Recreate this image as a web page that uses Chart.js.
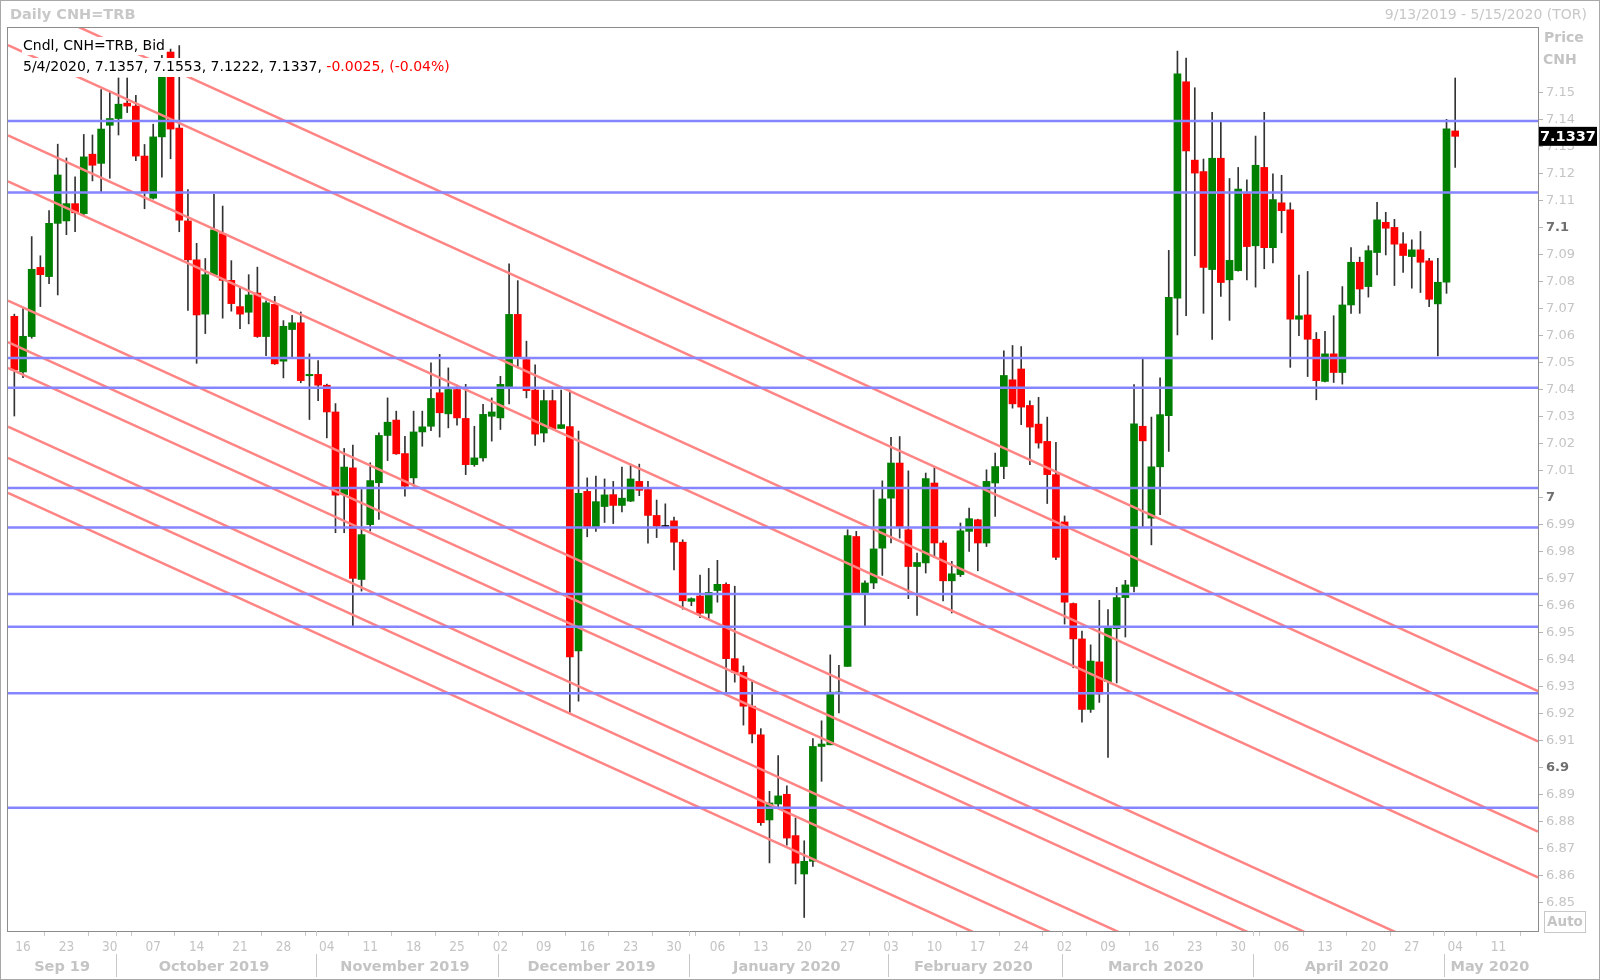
<!DOCTYPE html>
<html>
<head>
<meta charset="utf-8">
<title>Daily CNH=TRB</title>
<script src="https://cdn.jsdelivr.net/npm/chart.js@4.4.1/dist/chart.umd.min.js"></script>
<style>
  html, body { margin: 0; padding: 0; background: #fff; }
  #wrap { position: relative; width: 1600px; height: 980px; }
</style>
</head>
<body>
<div id="wrap"><canvas id="cnh" width="1600" height="980"></canvas></div>
<script>
// daily bars, one per weekday starting 9/13/2019
const opens = [
  7.0671, 7.0465, 7.0596, 7.0852, 7.0818, 7.1015, 7.1024, 7.1088, 7.1051, 7.1271,
  7.1237, 7.1378, 7.1403, 7.1460, 7.1449, 7.1264, 7.1108, 7.1335, 7.1649, 7.1368,
  7.1024, 7.0880, 7.0679, 7.0825, 7.0977, 7.0804, 7.0707, 7.0686, 7.0757, 7.0596,
  7.0715, 7.0505, 7.0622, 7.0647, 7.0451, 7.0456, 7.0416, 7.0317, 7.0011, 7.0110,
  6.9697, 6.9900, 7.0055, 7.0230, 7.0287, 7.0163, 7.0073, 7.0243, 7.0264, 7.0388,
  7.0310, 7.0400, 7.0293, 7.0122, 7.0147, 7.0301, 7.0295, 7.0410, 7.0678, 7.0511,
  7.0398, 7.0239, 7.0359, 7.0256, 7.0263, 6.9433, 7.0023, 6.9888, 6.9967, 7.0011,
  6.9971, 6.9987, 7.0060, 7.0030, 6.9934, 6.9893, 6.9914, 6.9835, 6.9616, 6.9636,
  6.9572, 6.9656, 6.9679, 6.9404, 6.9353, 6.9228, 6.9122, 6.8807, 6.8866, 6.8902,
  6.8749, 6.8607, 6.8654, 6.9079, 6.9085, 6.9277, 6.9375, 6.9856, 6.9647, 6.9684,
  6.9813, 6.9998, 7.0128, 6.9881, 6.9745, 6.9758, 7.0054, 6.9832, 6.9692, 6.9715,
  6.9875, 6.9918, 6.9832, 7.0054, 7.0115, 7.0436, 7.0476, 7.0341, 7.0272, 7.0208,
  7.0085, 6.9910, 6.9608, 6.9477, 6.9216, 6.9392, 6.9319, 6.9515, 6.9630, 6.9671,
  7.0264, 6.9924, 7.0114, 7.0303, 7.0738, 7.1539, 7.1249, 7.1207, 7.0844, 7.1256,
  7.0806, 7.0840, 7.1125, 7.0932, 7.1222, 7.0925, 7.1091, 7.1065, 7.0660, 7.0676,
  7.0586, 7.0430, 7.0532, 7.0463, 7.0713, 7.0871, 7.0781, 7.0907, 7.1019, 7.1000,
  7.0939, 7.0892, 7.0917, 7.0876, 7.0717, 7.0797, 7.1357
];
const highs = [
  7.0679, 7.0700, 7.0966, 7.0895, 7.1062, 7.1308, 7.1257, 7.1187, 7.1344, 7.1342,
  7.1510, 7.1503, 7.1553, 7.1553, 7.1489, 7.1307, 7.1382, 7.1640, 7.1660, 7.1673,
  7.1140, 7.0941, 7.0885, 7.1122, 7.1079, 7.0877, 7.0775, 7.0825, 7.0853, 7.0728,
  7.0745, 7.0655, 7.0675, 7.0687, 7.0532, 7.0507, 7.0420, 7.0348, 7.0182, 7.0194,
  7.0030, 7.0129, 7.0240, 7.0369, 7.0320, 7.0227, 7.0320, 7.0320, 7.0499, 7.0530,
  7.0480, 7.0416, 7.0419, 7.0264, 7.0345, 7.0369, 7.0449, 7.0865, 7.0803, 7.0579,
  7.0491, 7.0398, 7.0398, 7.0398, 7.0398, 7.0246, 7.0073, 7.0080, 7.0069, 7.0060,
  7.0113, 7.0124, 7.0124, 7.0060, 6.9991, 6.9977, 6.9928, 6.9844, 6.9629, 6.9713,
  6.9738, 6.9768, 6.9685, 6.9672, 6.9377, 6.9324, 6.9145, 6.8913, 6.9045, 6.8933,
  6.8814, 6.8730, 6.9108, 6.9174, 6.9418, 6.9379, 6.9881, 6.9875, 6.9692, 7.0029,
  7.0062, 7.0223, 7.0226, 7.0099, 6.9795, 7.0091, 7.0115, 6.9840, 6.9764, 6.9906,
  6.9961, 6.9920, 7.0103, 7.0165, 7.0543, 7.0563, 7.0559, 7.0358, 7.0371, 7.0298,
  7.0205, 6.9932, 6.9610, 6.9506, 6.9455, 6.9620, 6.9586, 6.9668, 6.9694, 7.0418,
  7.0517, 7.0298, 7.0443, 7.0915, 7.1653, 7.1627, 7.1517, 7.1253, 7.1426, 7.1389,
  7.1181, 7.1222, 7.1176, 7.1338, 7.1426, 7.1198, 7.1193, 7.1091, 7.0824, 7.0837,
  7.0611, 7.0615, 7.0673, 7.0781, 7.0925, 7.0890, 7.0932, 7.1093, 7.1056, 7.1030,
  7.0981, 7.0954, 7.0985, 7.0886, 7.0886, 7.1400, 7.1553
];
const lows = [
  7.0302, 7.0444, 7.0590, 7.0707, 7.0792, 7.0750, 7.0973, 7.0984, 7.1041, 7.1172,
  7.1130, 7.1182, 7.1342, 7.1425, 7.1247, 7.1069, 7.1105, 7.1186, 7.1254, 7.0984,
  7.0693, 7.0497, 7.0607, 7.0822, 7.0664, 7.0690, 7.0625, 7.0643, 7.0593, 7.0525,
  7.0493, 7.0443, 7.0517, 7.0425, 7.0289, 7.0359, 7.0221, 6.9870, 6.9870, 6.9524,
  6.9654, 6.9876, 6.9919, 7.0137, 7.0160, 7.0005, 7.0042, 7.0190, 7.0248, 7.0224,
  7.0258, 7.0268, 7.0085, 7.0116, 7.0135, 7.0209, 7.0252, 7.0347, 7.0480, 7.0369,
  7.0193, 7.0206, 7.0252, 7.0255, 6.9205, 6.9247, 6.9855, 6.9875, 6.9908, 6.9904,
  6.9947, 6.9985, 7.0007, 6.9831, 6.9852, 6.9888, 6.9732, 6.9587, 6.9600, 6.9556,
  6.9552, 6.9613, 6.9282, 6.9317, 6.9158, 6.9092, 6.8787, 6.8648, 6.8853, 6.8714,
  6.8570, 6.8446, 6.8635, 6.8950, 6.9085, 6.9203, 6.9375, 6.9647, 6.9523, 6.9663,
  6.9712, 6.9832, 6.9850, 6.9626, 6.9564, 6.9721, 6.9779, 6.9618, 6.9573, 6.9708,
  6.9801, 6.9729, 6.9819, 6.9930, 7.0070, 7.0331, 7.0270, 7.0122, 7.0183, 6.9978,
  6.9770, 6.9532, 6.9370, 6.9169, 6.9205, 6.9242, 6.9038, 6.9314, 6.9484, 6.9651,
  6.9893, 6.9825, 6.9937, 7.0171, 7.0602, 7.0673, 7.0895, 7.0682, 7.0585, 7.0745,
  7.0656, 7.0838, 7.0806, 7.0779, 7.0847, 7.0869, 7.0980, 7.0482, 7.0599, 7.0448,
  7.0362, 7.0428, 7.0426, 7.0420, 7.0682, 7.0682, 7.0742, 7.0824, 7.0898, 7.0785,
  7.0833, 7.0775, 7.0759, 7.0707, 7.0524, 7.0756, 7.1222
];
const closes = [
  7.0472, 7.0597, 7.0845, 7.0825, 7.1015, 7.1194, 7.1088, 7.1054, 7.1261, 7.1230,
  7.1364, 7.1403, 7.1456, 7.1449, 7.1264, 7.1133, 7.1335, 7.1600, 7.1364, 7.1027,
  7.0880, 7.0676, 7.0825, 7.0991, 7.0804, 7.0718, 7.0679, 7.0750, 7.0596, 7.0721,
  7.0495, 7.0634, 7.0647, 7.0433, 7.0456, 7.0416, 7.0317, 7.0009, 7.0113, 6.9701,
  6.9863, 7.0063, 7.0230, 7.0279, 7.0162, 7.0042, 7.0243, 7.0262, 7.0367, 7.0314,
  7.0400, 7.0295, 7.0122, 7.0147, 7.0308, 7.0317, 7.0419, 7.0678, 7.0517, 7.0396,
  7.0235, 7.0359, 7.0255, 7.0270, 6.9410, 7.0016, 6.9888, 6.9985, 7.0010, 6.9971,
  6.9998, 7.0069, 7.0027, 6.9934, 6.9894, 6.9893, 6.9835, 6.9618, 6.9626, 6.9572,
  6.9649, 6.9679, 6.9404, 6.9353, 6.9228, 6.9125, 6.8797, 6.8870, 6.8896, 6.8740,
  6.8647, 6.8654, 6.9079, 6.9088, 6.9280, 6.9280, 6.9859, 6.9647, 6.9684, 6.9810,
  6.9995, 7.0128, 6.9890, 6.9745, 6.9760, 7.0070, 6.9832, 6.9692, 6.9718, 6.9877,
  6.9922, 6.9832, 7.0060, 7.0115, 7.0452, 7.0347, 7.0335, 7.0261, 7.0202, 7.0085,
  6.9779, 6.9613, 6.9477, 6.9216, 6.9395, 6.9273, 6.9518, 6.9630, 6.9677, 7.0273,
  7.0210, 7.0114, 7.0307, 7.0741, 7.1568, 7.1283, 7.1201, 7.0852, 7.1256, 7.0796,
  7.0878, 7.1142, 7.0929, 7.1230, 7.0925, 7.1103, 7.1062, 7.0660, 7.0673, 7.0586,
  7.0433, 7.0532, 7.0463, 7.0713, 7.0871, 7.0772, 7.0914, 7.1028, 7.0997, 7.0938,
  7.0896, 7.0917, 7.0871, 7.0734, 7.0797, 7.1365, 7.1337
];

// horizontal support / resistance levels
const levels = [7.1394, 7.1129, 7.0517, 7.0407, 7.0036, 6.9889, 6.9643, 6.9522, 6.9276, 6.8852];

// parallel down-trend lines: value on 9/13/2019 and on 5/15/2020
const trendStart = [7.1850, 7.1664, 7.1330, 7.1160, 7.0718, 7.0565, 7.0469, 7.0252, 7.0136, 7.0007];
const trendEnd   = [6.9292, 6.9106, 6.8772, 6.8602, 6.8160, 6.8007, 6.7911, 6.7694, 6.7578, 6.7449];

const monthLabels = ["Sep 19", "October 2019", "November 2019", "December 2019", "January 2020",
  "February 2020", "March 2020", "April 2020", "May 2020"];

const yTickValues = [];
for (let k = 685; k <= 715; k++) yTickValues.push(k / 100);

const lastBar = 166;
const xMin = -0.73, xMax = 175.54;
const yMin = 6.8396, yMax = 7.1738;

// weekdays from the first bar to the end of the axis range
const days = [];
for (let t = Date.UTC(2019, 8, 13); days.length < 176; t += 86400000) {
  const d = new Date(t);
  if (d.getUTCDay() !== 0 && d.getUTCDay() !== 6) days.push(d);
}
const mondays = [];
days.forEach((d, i) => { if (d.getUTCDay() === 1) mondays.push(i); });

const FONT = "'DejaVu Sans', Verdana, sans-serif";
const NARROW = "'DejaVu Sans Condensed', 'Liberation Sans Narrow', 'DejaVu Sans', sans-serif";
const GREY = "#c4c4c4";

const candleColor = opens.map((o, i) => closes[i] > o ? "#008000" : closes[i] < o ? "#ff0000" : "#000000");
const bodies = opens.map((o, i) => ({ x: i, y: [o, closes[i]] }));
const wicks = highs.map((h, i) => ({ x: i, y: [lows[i], h] }));

const lineSets = [];
levels.forEach(v => {
  lineSets.push({
    type: "line", data: [{ x: xMin, y: v }, { x: xMax, y: v }],
    borderColor: "#8585ff", borderWidth: 2.5, pointRadius: 0, order: 0
  });
});
trendStart.forEach((a, k) => {
  const b = trendEnd[k];
  const at = x => a + (b - a) * x / 175;
  lineSets.push({
    type: "line", data: [{ x: xMin, y: at(xMin) }, { x: xMax, y: at(xMax) }],
    borderColor: "#ff8585", borderWidth: 2.5, pointRadius: 0, order: 0
  });
});

const decor = {
  id: "decor",
  afterDraw(chart) {
    const c = chart.ctx, a = chart.chartArea, xs = chart.scales.x, ys = chart.scales.y;
    c.save();

    // legend box, top left of the plot
    c.textBaseline = "middle";
    c.font = "14px " + FONT;
    const l1 = "Cndl, CNH=TRB, Bid";
    const l2a = "5/4/2020, 7.1357, 7.1553, 7.1222, 7.1337, ";
    const l2b = "-0.0025, (-0.04%)";
    c.fillStyle = "#fff";
    c.fillRect(22, 37, c.measureText(l1).width + 2, 18);
    c.fillRect(22, 58, c.measureText(l2a + l2b).width + 2, 19);
    c.fillStyle = "#000";
    c.fillText(l1, 23, 46);
    c.fillText(l2a, 23, 67.5);
    c.fillStyle = "#ff0000";
    c.fillText(l2b, 23 + c.measureText(l2a).width, 67.5);

    // frames
    c.strokeStyle = "#a8a8a8";
    c.lineWidth = 1;
    c.strokeRect(0.5, 0.5, 1599, 979);
    c.strokeStyle = "#8c8c8c";
    c.strokeRect(a.left - 0.5, a.top - 0.5, a.right - a.left + 1, a.bottom - a.top + 1);

    // header texts
    c.fillStyle = "#c8c8c8";
    c.font = "bold 14.5px " + FONT;
    c.textAlign = "left";
    c.fillText("Daily CNH=TRB", 10, 15.5);
    c.font = "14px " + FONT;
    c.textAlign = "right";
    c.fillText("9/13/2019 - 5/15/2020 (TOR)", 1587, 15.5);
    c.textAlign = "left";
    c.font = "bold 14px " + FONT;
    c.fillStyle = GREY;
    c.fillText("Price", 1544, 38);
    c.fillText("CNH", 1543, 60);

    // month band under the day ticks
    const spans = [];
    days.forEach((d, i) => {
      const key = d.getUTCFullYear() * 12 + d.getUTCMonth();
      const last = spans[spans.length - 1];
      if (!last || last.key !== key) spans.push({ key, first: i, last: i });
      else last.last = i;
    });
    c.font = "bold 14.5px " + FONT;
    c.textAlign = "center";
    c.strokeStyle = "#c8c8c8";
    spans.forEach((s, k) => {
      const lo = Math.max(s.first - 0.5, xMin), hi = Math.min(s.last + 0.5, xMax);
      c.fillStyle = GREY;
      c.fillText(monthLabels[k], xs.getPixelForValue((lo + hi) / 2), 967);
      if (k > 0) {
        const px = Math.round(xs.getPixelForValue(s.first - 0.3)) + 0.5;
        c.beginPath();
        c.moveTo(px, a.bottom);
        c.lineTo(px, a.bottom + 5);
        c.moveTo(px, 954);
        c.lineTo(px, 977);
        c.stroke();
      }
    });

    // last price tag
    const py = ys.getPixelForValue(closes[lastBar]);
    c.fillStyle = "#000";
    c.fillRect(a.right + 1, py - 9.5, 58, 19);
    c.fillStyle = "#fff";
    c.font = "bold 14.5px " + FONT;
    c.textAlign = "left";
    c.fillText(closes[lastBar].toFixed(4), a.right + 2, py + 0.5);

    // Auto button
    c.strokeStyle = "#c8c8c8";
    c.strokeRect(1544.5, 911.5, 41, 21);
    c.fillStyle = GREY;
    c.font = "bold 13.5px " + FONT;
    c.textAlign = "center";
    c.fillText("Auto", 1565, 922.5);
    c.restore();
  }
};

const isRound = ctx => ctx.tick && Math.round(ctx.tick.value * 100) % 10 === 0;

new Chart(document.getElementById("cnh"), {
  type: "bar",
  data: {
    datasets: [
      ...lineSets,
      {
        data: bodies,
        backgroundColor: candleColor,
        barThickness: 7,
        minBarLength: 1,
        grouped: false,
        order: 1
      },
      {
        data: wicks,
        backgroundColor: "#333333",
        barThickness: 1,
        grouped: false,
        order: 2
      }
    ]
  },
  plugins: [decor],
  options: {
    responsive: false,
    animation: false,
    events: [],
    layout: { padding: { left: 8, top: 28, right: 0, bottom: 0 } },
    plugins: {
      legend: { display: false },
      tooltip: { enabled: false }
    },
    scales: {
      x: {
        type: "linear",
        min: xMin,
        max: xMax,
        offset: false,
        border: { display: false },
        grid: { drawOnChartArea: false, drawTicks: true, tickLength: 5, color: "#c8c8c8" },
        afterBuildTicks: s => { s.ticks = mondays.map(v => ({ value: v })); },
        afterFit: s => { s.height = 49; },
        ticks: {
          autoSkip: false,
          maxRotation: 0,
          padding: 3,
          color: GREY,
          font: { family: NARROW, size: 13.5 },
          callback: v => String(days[v].getUTCDate()).padStart(2, "0")
        }
      },
      y: {
        position: "right",
        min: yMin,
        max: yMax,
        border: { display: false },
        grid: { drawOnChartArea: false, drawTicks: true, tickLength: 5, color: "#b4b4b4" },
        afterBuildTicks: s => { s.ticks = yTickValues.map(v => ({ value: v })); },
        afterFit: s => { s.width = 62; },
        ticks: {
          autoSkip: false,
          padding: 3,
          color: ctx => isRound(ctx) ? "#6e6e6e" : GREY,
          font: ctx => ({ family: FONT, size: 13, weight: isRound(ctx) ? "bold" : "normal" }),
          callback: v => String(parseFloat(v.toFixed(2)))
        }
      }
    }
  }
});
</script>
</body>
</html>
